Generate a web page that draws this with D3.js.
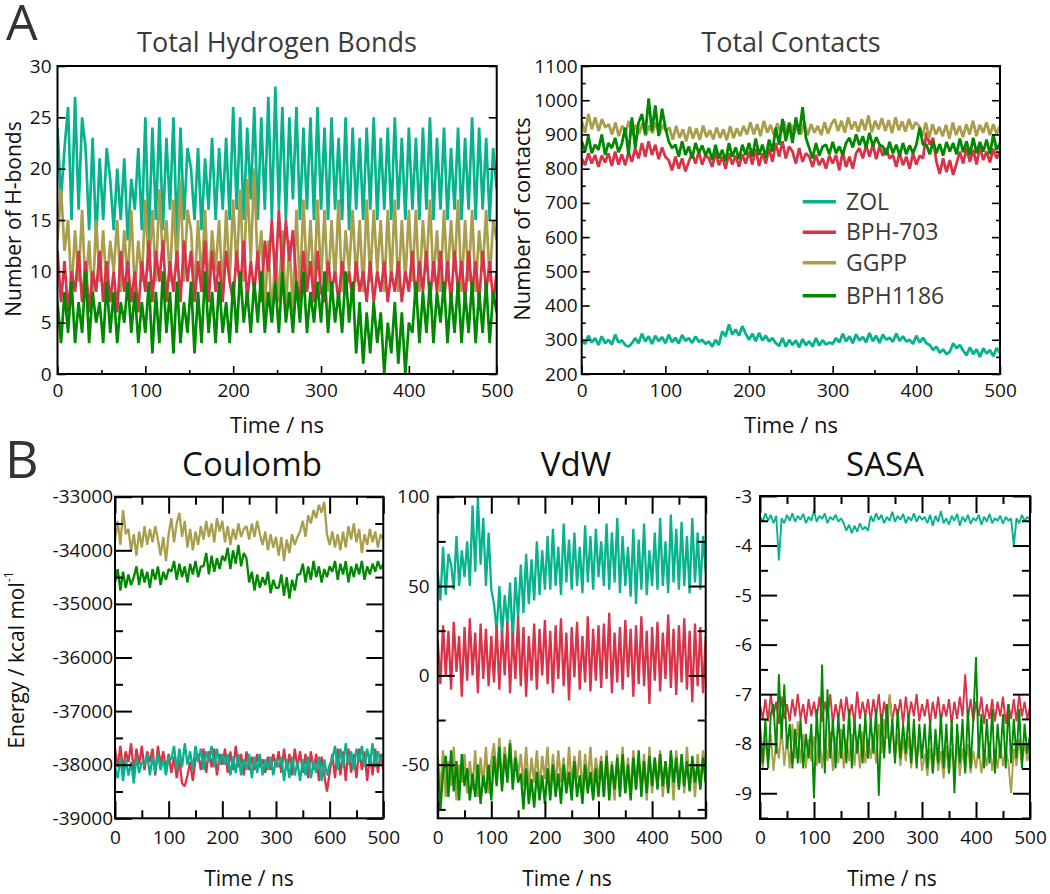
<!DOCTYPE html>
<html><head><meta charset="utf-8">
<script src="https://cdn.jsdelivr.net/npm/d3@7"></script>
<style>body{margin:0;background:#fff}svg{display:block}text{font-family:"Open Sans",sans-serif}</style>
</head><body><svg id="c" width="1050" height="894"></svg>
<script>
// ---------- categories / colours ----------
const seriesNames = ["ZOL", "BPH-703", "GGPP", "BPH1186"];
const seriesColors = ["#06b38e", "#d83348", "#a99e4b", "#018a01"];
const timeDomain = [0, 500];

// ---------- A: Total Hydrogen Bonds (every 4 ns) ----------
const hbZOL = [24,17,22,26,15,27,16,25,22,14,23,13,21,15,22,19,14,20,15,21,13,19,16,22,14,25,13,24,15,25,14,23,16,25,13,24,15,22,20,15,22,14,21,16,23,15,22,16,23,15,26,16,25,15,24,17,26,15,25,16,27,15,28,16,26,15,25,17,26,15,24,16,25,15,26,16,24,15,25,16,23,15,25,14,24,16,23,15,24,16,25,15,23,16,24,15,25,16,23,15,24,16,23,15,24,16,25,15,23,16,24,15,22,16,24,15,23,16,25,15,24,16,23,15,22,18];
const hbBPH703 = [12,7,11,6,10,8,12,7,11,6,10,8,12,7,11,7,10,6,12,8,11,7,10,6,11,8,13,7,12,9,13,7,11,8,12,7,13,9,12,7,11,8,13,7,12,8,11,7,12,9,7,12,8,13,7,11,8,12,7,13,10,15,9,16,10,15,11,14,9,7,12,8,11,7,12,8,7,11,8,10,7,11,8,10,7,11,8,10,7,11,7,10,8,11,7,10,8,11,7,10,8,12,7,11,8,12,7,11,8,12,7,11,7,12,8,11,7,12,8,11,7,12,8,11,7,10];
const hbGGPP = [13,18,12,15,8,14,9,16,8,13,7,15,9,14,8,13,10,15,8,14,9,16,8,13,9,17,10,16,9,18,11,15,9,17,10,19,9,16,14,8,15,9,16,8,14,10,15,8,16,9,17,10,18,9,19,11,20,10,14,6,13,5,12,7,14,6,13,6,16,8,17,9,15,8,17,9,16,8,15,9,17,8,14,10,16,9,15,8,17,9,16,10,15,8,16,9,17,8,15,9,16,9,16,8,15,10,17,9,14,8,16,9,15,10,17,8,15,9,16,8,14,10,16,9,15,13];
const hbBPH1186 = [7,3,8,4,9,3,7,4,10,3,8,5,7,3,9,4,8,3,7,5,9,4,8,3,7,4,9,2,8,3,10,4,8,2,9,3,7,4,9,2,8,3,10,4,8,3,9,4,7,3,9,4,10,5,8,4,9,5,10,4,8,5,9,4,10,5,8,4,9,5,10,4,8,5,9,5,10,4,9,5,8,4,10,5,9,2,7,1,6,2,7,3,6,0,5,2,7,1,6,0,5,4,9,3,8,4,9,3,8,5,9,3,8,4,9,3,8,4,9,3,8,4,9,3,8,6];
const hbYTicks = [0,5,10,15,20,25,30];

// ---------- A: Total Contacts (every 4 ns) ----------
const ctZOL = [300,288,312,292,305,285,310,290,300,286,315,292,298,285,280,290,305,290,318,295,310,288,312,296,308,290,315,293,306,289,314,297,305,291,310,294,300,288,295,280,300,285,325,310,345,315,330,312,340,318,300,318,296,320,298,312,295,305,290,282,305,280,300,285,298,278,302,284,296,280,305,283,299,286,292,288,305,292,318,295,310,290,316,298,308,293,320,296,312,291,315,300,306,294,318,297,310,295,300,288,312,292,306,290,285,270,280,262,272,258,265,290,275,285,268,255,278,258,272,250,275,260,270,252,276,262];
const ctBPH703 = [830,810,845,815,840,805,838,818,845,808,850,812,842,810,848,820,860,830,875,835,880,840,870,828,862,835,825,795,835,800,830,792,820,845,815,850,812,840,830,805,848,810,835,800,845,812,838,806,842,815,850,812,858,808,845,815,860,820,875,835,880,830,865,850,815,860,820,845,835,805,840,810,830,800,838,815,840,795,850,805,835,800,845,860,830,868,835,872,828,865,838,860,830,840,805,848,810,835,800,845,812,838,830,905,870,890,820,785,830,790,825,782,815,850,815,860,820,855,812,865,825,850,818,858,830,850];
const ctGGPP = [940,905,960,915,950,910,945,920,930,900,935,895,925,905,940,898,928,902,932,896,926,904,935,900,928,910,920,885,925,890,915,880,922,888,918,884,926,892,912,886,920,890,915,883,924,889,918,895,925,900,935,900,930,895,940,905,928,898,932,902,938,896,930,904,926,900,935,897,930,905,925,898,936,902,930,945,910,940,905,950,915,938,908,945,912,955,906,940,915,948,910,942,904,950,912,938,908,945,915,935,925,895,935,890,930,900,922,895,928,888,935,898,925,892,930,900,940,895,928,905,935,898,930,902,925];
const ctBPH1186 = [880,850,895,845,870,855,900,840,875,860,890,848,872,920,840,950,860,935,960,900,1005,910,985,895,975,920,880,860,870,835,880,840,865,830,875,845,868,838,860,825,870,830,855,822,875,835,862,828,870,840,875,835,888,840,870,832,885,850,920,870,945,880,935,875,950,900,980,890,860,830,875,838,865,870,842,878,845,865,840,875,890,862,900,868,895,860,905,865,892,870,865,840,878,845,870,838,875,842,868,845,870,920,870,870,842,880,845,872,838,878,850,875,842,888,848,880,840,890,845,878,850,885,842,900,855,875];
const ctYTicks = [200,300,400,500,600,700,800,900,1000,1100];

// ---------- B: Coulomb (every 5 ns) ----------
const coulZOL = [-38050,-38250,-37850,-38300,-37900,-38200,-37950,-38350,-37850,-38150,-37950,-38000,-37800,-38200,-37850,-38150,-37800,-38100,-37900,-38200,-37850,-37900,-37650,-38100,-37700,-38050,-37600,-38000,-37750,-38100,-37650,-37950,-37700,-38100,-37750,-37950,-37650,-38050,-37700,-38000,-37800,-38000,-37800,-38200,-37850,-38150,-37800,-38200,-37900,-38100,-37800,-38250,-37850,-38150,-37800,-38200,-37900,-38100,-37850,-38200,-37900,-38050,-37850,-38300,-37900,-38250,-37850,-38200,-37950,-38300,-37900,-38200,-37850,-38250,-37950,-38150,-37850,-38300,-37900,-38200,-38000,-37900,-37650,-38100,-37700,-38050,-37600,-38000,-37750,-38100,-37700,-37950,-37650,-38050,-37700,-38000,-37600,-38050,-37750,-37950,-37800];
const coulBPH703 = [-37700,-38050,-37650,-38100,-37750,-37950,-37600,-38150,-37700,-38000,-37650,-38100,-37750,-37950,-37700,-38200,-37650,-38000,-37750,-38100,-37800,-38150,-37850,-38250,-37900,-38350,-38400,-38200,-37950,-38300,-37900,-37800,-38100,-37700,-38150,-37750,-38050,-37700,-38200,-37800,-38000,-37700,-38150,-37750,-38100,-37650,-38050,-37800,-38200,-37750,-38100,-37850,-38100,-37800,-38050,-37900,-38150,-37850,-38100,-37800,-38050,-37750,-38150,-37700,-38100,-37800,-38200,-37700,-38050,-37750,-38150,-37800,-38250,-37750,-38100,-37800,-38300,-37850,-38200,-38500,-38150,-37800,-38250,-37700,-38200,-37750,-38300,-37700,-38150,-37800,-38250,-37700,-38100,-37750,-38300,-37800,-38200,-37700,-38150,-37800,-38100];
const coulGGPP = [-33800,-33450,-33900,-33250,-33700,-33600,-34000,-33700,-34100,-33650,-33950,-33550,-33900,-33600,-33850,-33550,-33800,-34100,-33750,-34200,-33700,-33400,-33850,-33500,-33300,-33750,-33450,-33950,-33600,-34000,-33650,-33900,-33550,-33800,-33450,-33750,-33500,-33850,-33400,-33650,-33450,-33850,-33550,-33900,-33600,-33800,-33500,-33750,-33600,-33550,-33800,-33500,-33750,-33450,-33700,-33900,-33650,-34000,-33700,-33950,-33750,-34100,-33750,-34200,-33800,-34050,-33700,-33900,-33750,-33650,-33450,-33750,-33350,-33500,-33250,-33400,-33150,-33300,-33100,-33700,-33900,-33650,-33950,-33700,-34000,-33650,-33950,-33550,-33800,-33500,-33850,-33600,-34050,-33700,-33900,-33600,-33850,-33650,-33950,-33700,-33800];
const coulBPH1186 = [-34600,-34350,-34750,-34400,-34700,-34450,-34650,-34500,-34300,-34650,-34350,-34600,-34400,-34700,-34350,-34550,-34300,-34650,-34400,-34550,-34350,-34400,-34200,-34550,-34250,-34500,-34300,-34600,-34250,-34450,-34200,-34500,-34300,-34300,-34050,-34450,-34100,-34400,-34150,-34350,-34100,-34200,-33950,-34350,-34000,-34250,-33900,-34300,-34050,-34150,-34600,-34400,-34750,-34450,-34700,-34500,-34650,-34400,-34800,-34550,-34700,-34700,-34450,-34850,-34500,-34900,-34550,-34750,-34450,-34450,-34250,-34600,-34300,-34550,-34200,-34500,-34300,-34600,-34350,-34500,-34300,-34400,-34200,-34550,-34250,-34450,-34200,-34600,-34300,-34500,-34250,-34450,-34200,-34550,-34300,-34450,-34250,-34400,-34200,-34350,-34250];
const coulYTicks = [-39000,-38000,-37000,-36000,-35000,-34000,-33000];
const coulXLabels = ["0","100","200","300","600","500"];

// ---------- B: VdW (every 5 ns) ----------
const vdwZOL = [58,42,72,45,68,62,48,78,50,70,55,75,50,95,58,100,62,88,50,80,48,40,25,50,22,45,28,52,18,55,32,62,35,68,40,65,42,75,45,70,48,78,48,82,50,72,45,85,52,76,48,80,50,72,46,84,52,78,48,82,55,75,50,85,48,80,52,88,46,78,50,72,44,82,40,76,48,85,45,70,50,80,48,88,50,75,46,90,52,82,48,86,50,78,46,88,52,80,48,78,58];
const vdwBPH703 = [20,-5,28,0,25,-8,30,2,22,-12,27,-3,32,0,24,-10,29,-2,26,-6,22,-4,28,-8,25,0,30,-10,24,-2,33,-6,27,-12,22,-3,29,-8,26,0,31,-5,25,-10,28,-2,32,-6,24,-14,27,-1,30,-8,22,-4,33,-9,26,-3,28,-7,29,-2,35,-10,24,-4,27,-8,31,-1,26,-12,28,-5,33,-6,25,-16,27,-3,30,-9,24,-2,34,-7,26,-11,28,-4,32,-8,25,-15,29,-6,27,-10,22];
const vdwGGPP = [-45,-65,-42,-68,-48,-62,-40,-70,-50,-60,-44,-66,-48,-64,-42,-68,-46,-62,-40,-66,-48,-38,-58,-35,-62,-40,-55,-36,-60,-42,-56,-44,-62,-40,-65,-46,-60,-42,-64,-45,-58,-40,-66,-44,-62,-42,-60,-46,-64,-40,-62,-45,-58,-42,-66,-44,-60,-40,-64,-46,-58,-45,-68,-42,-64,-48,-70,-44,-62,-40,-66,-46,-68,-42,-64,-48,-60,-44,-70,-40,-66,-46,-62,-42,-68,-48,-64,-44,-70,-42,-62,-46,-66,-40,-64,-48,-68,-44,-62,-42,-60];
const vdwBPH1186 = [-50,-75,-55,-45,-68,-42,-65,-48,-70,-44,-62,-52,-70,-55,-68,-50,-72,-56,-66,-50,-70,-45,-62,-40,-65,-44,-60,-38,-64,-46,-60,-55,-75,-52,-72,-58,-74,-54,-70,-56,-72,-52,-70,-50,-68,-55,-72,-50,-66,-54,-70,-48,-68,-56,-72,-50,-66,-54,-70,-52,-68,-48,-68,-45,-70,-50,-64,-46,-68,-44,-66,-50,-70,-46,-64,-42,-68,-48,-66,-45,-62,-46,-64,-44,-62,-48,-66,-42,-60,-46,-64,-44,-62,-48,-65,-45,-60,-50,-64,-46,-60];
const vdwYTicks = [-50,0,50,100];

// ---------- B: SASA (every 5 ns) ----------
const sasaZOL = [-3.42,-3.52,-3.35,-3.5,-3.38,-3.55,-3.4,-4.3,-3.45,-3.55,-3.38,-3.5,-3.35,-3.52,-3.4,-3.48,-3.36,-3.55,-3.42,-3.5,-3.3,-3.52,-3.4,-3.46,-3.35,-3.55,-3.42,-3.48,-3.38,-3.52,-3.45,-3.55,-3.7,-3.58,-3.75,-3.6,-3.72,-3.55,-3.68,-3.62,-3.7,-3.4,-3.52,-3.35,-3.48,-3.38,-3.55,-3.42,-3.5,-3.32,-3.52,-3.4,-3.48,-3.36,-3.55,-3.42,-3.5,-3.35,-3.52,-3.4,-3.48,-3.42,-3.55,-3.38,-3.6,-3.4,-3.52,-3.3,-3.55,-3.45,-3.58,-3.4,-3.5,-3.36,-3.6,-3.42,-3.52,-3.38,-3.56,-3.44,-3.5,-3.38,-3.58,-3.42,-3.52,-3.36,-3.55,-3.45,-3.5,-3.4,-3.56,-3.42,-3.5,-3.45,-4.0,-3.45,-3.55,-3.38,-3.5,-3.42,-3.48];
const sasaBPH703 = [-7.2,-7.5,-7.1,-7.55,-7.0,-7.45,-7.15,-7.6,-7.05,-7.5,-7.2,-7.55,-7.1,-7.45,-7.0,-7.5,-7.2,-7.6,-7.1,-7.45,-7.15,-7.5,-7.05,-7.55,-7.15,-7.45,-7.0,-7.6,-7.2,-7.5,-7.1,-7.55,-7.05,-7.45,-7.2,-7.6,-6.95,-7.5,-7.15,-7.45,-7.1,-7.55,-7.1,-7.45,-7.0,-7.6,-7.15,-7.5,-7.05,-7.55,-7.2,-7.45,-7.1,-7.6,-7.05,-7.5,-7.15,-7.45,-7.0,-7.55,-7.2,-7.45,-7.1,-7.6,-7.15,-7.5,-7.05,-7.55,-7.2,-7.45,-7.1,-7.6,-7.15,-7.5,-7.05,-7.45,-6.6,-7.5,-7.1,-7.55,-7.15,-7.45,-7.05,-7.6,-7.2,-7.5,-7.1,-7.55,-7.15,-7.45,-7.05,-7.6,-7.2,-7.5,-7.1,-7.55,-7.0,-7.45,-7.15,-7.5,-7.25];
const sasaGGPP = [-8.0,-8.5,-7.9,-8.4,-7.8,-8.55,-7.95,-8.3,-7.7,-8.45,-7.85,-8.5,-7.6,-8.3,-7.55,-8.4,-7.8,-8.5,-7.9,-8.35,-7.85,-8.45,-7.8,-8.5,-7.9,-8.35,-7.75,-8.55,-7.85,-8.4,-7.7,-8.5,-7.9,-8.35,-7.8,-8.45,-7.85,-8.5,-7.75,-8.4,-7.9,-8.3,-7.8,-8.4,-7.6,-8.2,-7.5,-7.9,-7.0,-7.6,-8.3,-7.8,-8.45,-7.9,-8.35,-7.85,-8.5,-7.8,-8.4,-7.9,-8.55,-8.2,-8.65,-8.1,-8.6,-8.0,-8.55,-8.15,-8.7,-8.05,-8.6,-8.1,-8.5,-7.95,-8.65,-8.1,-8.55,-8.0,-8.6,-8.15,-8.5,-8.05,-8.6,-8.1,-8.45,-7.95,-8.55,-8.1,-8.5,-8.0,-8.45,-8.1,-8.4,-9.0,-8.1,-8.45,-7.9,-8.4,-8.0,-8.35,-8.1];
const sasaBPH1186 = [-7.6,-8.4,-7.5,-8.5,-7.4,-7.2,-8.2,-6.6,-7.9,-6.8,-8.1,-7.6,-8.5,-7.7,-8.4,-7.5,-8.5,-7.8,-8.3,-7.6,-9.1,-7.3,-8.4,-6.4,-8.6,-6.9,-8.3,-7.5,-8.5,-7.4,-8.3,-7.6,-8.4,-7.3,-8.5,-7.5,-8.2,-7.6,-8.4,-7.4,-8.3,-7.5,-8.2,-7.3,-9.05,-7.4,-8.3,-7.2,-8.2,-7.5,-8.4,-7.3,-8.3,-7.6,-8.2,-7.4,-8.4,-7.5,-8.5,-7.6,-8.3,-7.6,-8.5,-7.5,-8.6,-7.7,-8.4,-7.4,-8.5,-7.6,-8.6,-7.5,-9.0,-7.6,-8.4,-7.5,-8.6,-7.3,-8.5,-7.5,-6.25,-8.3,-7.4,-8.5,-7.5,-8.4,-7.3,-8.6,-7.6,-8.3,-7.4,-8.5,-7.2,-8.4,-7.5,-8.3,-7.3,-8.5,-7.6,-8.2,-7.8];
const sasaYTicks = [-9,-8,-7,-6,-5,-4,-3];

const timeTicks = [0,100,200,300,400,500];
const timeMinor = [50,150,250,350,450];

// ---------- drawing ----------
const svg = d3.select("#c");
const colorOf = d3.scaleOrdinal().domain(seriesNames).range(seriesColors);

function drawPanel(cfg) {
  const x = d3.scaleLinear().domain(timeDomain).range([cfg.l, cfg.r]);
  const y = d3.scaleLinear().domain(cfg.yDomain).range([cfg.b, cfg.t]);
  const g = svg.append("g");
  const cid = "clip-" + cfg.id;
  svg.append("clipPath").attr("id", cid).append("rect")
    .attr("x", cfg.l).attr("y", cfg.t).attr("width", cfg.r - cfg.l).attr("height", cfg.b - cfg.t);
  const lg = g.append("g").attr("clip-path", `url(#${cid})`);
  cfg.order.forEach(name => {
    const vals = cfg.data[seriesNames.indexOf(name)];
    const n = vals.length;
    const line = d3.line()
      .x((d, i) => x(timeDomain[0] + i * (timeDomain[1] - timeDomain[0]) / (n - 1)))
      .y(d => y(d))
      .curve(cfg.curve || d3.curveLinear);
    lg.append("path").attr("d", line(vals)).attr("fill", "none")
      .attr("stroke", colorOf(name)).attr("stroke-width", cfg.sw).attr("stroke-linejoin", "bevel");
  });

  const style = (sel, labelSize) => {
    sel.select(".domain").remove();
    sel.selectAll(".tick line").attr("stroke", "#000").attr("stroke-width", cfg.tickW);
    sel.selectAll(".tick text").attr("fill", "#111").attr("font-size", labelSize)
      .attr("font-family", '"Open Sans", sans-serif');
  };
  const put = (axis, tx, ty) => {
    const s = g.append("g").attr("transform", `translate(${tx},${ty})`).call(axis);
    style(s, cfg.fs);
    return s;
  };
  put(d3.axisBottom(x).tickValues(timeTicks).tickSize(-cfg.maj).tickPadding(cfg.xPad)
      .tickFormat((d, i) => cfg.xLabels ? cfg.xLabels[i] : d), 0, cfg.b);
  put(d3.axisBottom(x).tickValues(timeMinor).tickSize(-cfg.min).tickFormat(""), 0, cfg.b);
  if (cfg.topTicks) {
    put(d3.axisTop(x).tickValues(timeTicks).tickSize(-cfg.maj).tickFormat(""), 0, cfg.t);
    put(d3.axisTop(x).tickValues(timeMinor).tickSize(-cfg.min).tickFormat(""), 0, cfg.t);
  }
  put(d3.axisLeft(y).tickValues(cfg.yTicks).tickSize(-cfg.maj).tickPadding(cfg.yPad)
      .tickFormat(cfg.yFmt || (d => d)), cfg.l, 0);
  put(d3.axisRight(y).tickValues(cfg.yTicks).tickSize(-cfg.maj).tickFormat(""), cfg.r, 0);
  if (cfg.yMinor) {
    put(d3.axisLeft(y).tickValues(cfg.yMinor).tickSize(-cfg.min).tickFormat(""), cfg.l, 0);
    put(d3.axisRight(y).tickValues(cfg.yMinor).tickSize(-cfg.min).tickFormat(""), cfg.r, 0);
  }
  g.append("rect").attr("x", cfg.l).attr("y", cfg.t).attr("width", cfg.r - cfg.l).attr("height", cfg.b - cfg.t)
    .attr("fill", "none").attr("stroke", "#000").attr("stroke-width", cfg.boxW);

  g.append("text").attr("x", cfg.titleX).attr("y", cfg.titleY).attr("text-anchor", "middle")
    .attr("font-size", cfg.titleSize).attr("fill", cfg.titleColor).text(cfg.title);
  g.append("text").attr("x", cfg.xLabX).attr("y", cfg.xLabY).attr("text-anchor", "middle")
    .attr("font-size", cfg.labSize).attr("fill", "#111").text("Time / ns");
  return {x, y, g};
}

const A = {fs: 19, maj: 8, min: 4, tickW: 1.6, boxW: 2, xPad: 10, titleSize: 27, titleColor: "#3a3a3a", labSize: 22, titleY: 52, xLabY: 433};
const B = {fs: 19, maj: 17, min: 8, tickW: 2, boxW: 2, xPad: 12, titleSize: 33, titleColor: "#111", labSize: 21, titleY: 476, xLabY: 886, sw: 2.3, topTicks: true};

drawPanel(Object.assign({}, A, {
  id: "hb", l: 57.5, r: 496.7, t: 66, b: 374, yDomain: [0, 30], yTicks: hbYTicks, yPad: 6,
  data: [hbZOL, hbBPH703, hbGGPP, hbBPH1186], order: ["ZOL", "GGPP", "BPH-703", "BPH1186"],
  sw: 2.7, title: "Total Hydrogen Bonds", titleX: 277, xLabX: 277
}));
drawPanel(Object.assign({}, A, {
  id: "ct", l: 581.7, r: 1000, t: 66, b: 374, yDomain: [200, 1100], yTicks: ctYTicks,
  yMinor: ctYTicks.slice(0, -1).map(v => v + 50), yPad: 4,
  data: [ctZOL, ctBPH703, ctGGPP, ctBPH1186], order: ["ZOL", "BPH-703", "GGPP", "BPH1186"],
  sw: 2.8, title: "Total Contacts", titleX: 791, xLabX: 791
}));
drawPanel(Object.assign({}, B, {
  id: "coul", l: 115, r: 383.3, t: 496.7, b: 818.3, yDomain: [-39000, -33000], yTicks: coulYTicks,
  yMinor: coulYTicks.slice(0, -1).map(v => v + 500), yPad: 2, xLabels: coulXLabels,
  data: [coulZOL, coulBPH703, coulGGPP, coulBPH1186], order: ["GGPP", "BPH1186", "BPH-703", "ZOL"],
  title: "Coulomb", titleX: 252, xLabX: 249
}));
drawPanel(Object.assign({}, B, {
  id: "vdw", l: 437.7, r: 705.7, t: 496.7, b: 818.3, yDomain: [-80, 100], yTicks: vdwYTicks,
  yMinor: [-75, -25, 25, 75], yPad: 8,
  data: [vdwZOL, vdwBPH703, vdwGGPP, vdwBPH1186], order: ["ZOL", "BPH-703", "GGPP", "BPH1186"],
  title: "VdW", titleX: 576, xLabX: 567
}));
drawPanel(Object.assign({}, B, {
  id: "sasa", l: 760, r: 1030, t: 496, b: 819, yDomain: [-9.52, -3], yTicks: sasaYTicks,
  yMinor: [-9.5, -8.5, -7.5, -6.5, -5.5, -4.5, -3.5], yPad: 8, sw: 1.9,
  data: [sasaZOL, sasaBPH703, sasaGGPP, sasaBPH1186], order: ["ZOL", "BPH-703", "GGPP", "BPH1186"],
  title: "SASA", titleX: 885, xLabX: 892
}));

// y-axis titles
svg.append("text").attr("transform", "translate(21,219) rotate(-90)").attr("text-anchor", "middle")
  .attr("font-size", 21).attr("fill", "#111").text("Number of H-bonds");
svg.append("text").attr("transform", "translate(530,219) rotate(-90)").attr("text-anchor", "middle")
  .attr("font-size", 22).attr("fill", "#111").text("Number of contacts");
const et = svg.append("text").attr("transform", "translate(24,660) rotate(-90)").attr("text-anchor", "middle")
  .attr("font-size", 21).attr("fill", "#111");
et.append("tspan").text("Energy / kcal mol");
et.append("tspan").attr("font-size", 12).attr("dy", -11).text("-1");

// panel letters
svg.append("text").attr("x", 6).attr("y", 40).attr("font-size", 50).attr("fill", "#333").text("A");
svg.append("text").attr("x", 5).attr("y", 478).attr("font-size", 52).attr("fill", "#333").text("B");

// legend
const legY = [201.7, 232.3, 262.7, 295.7];
const leg = svg.append("g");
seriesNames.forEach((name, i) => {
  leg.append("line").attr("x1", 802.7).attr("x2", 836).attr("y1", legY[i]).attr("y2", legY[i])
    .attr("stroke", colorOf(name)).attr("stroke-width", 3.5);
  leg.append("text").attr("x", 846).attr("y", legY[i]).attr("dy", "0.35em")
    .attr("font-size", 23).attr("fill", "#3a3a3a").text(name);
});
</script></body></html>
